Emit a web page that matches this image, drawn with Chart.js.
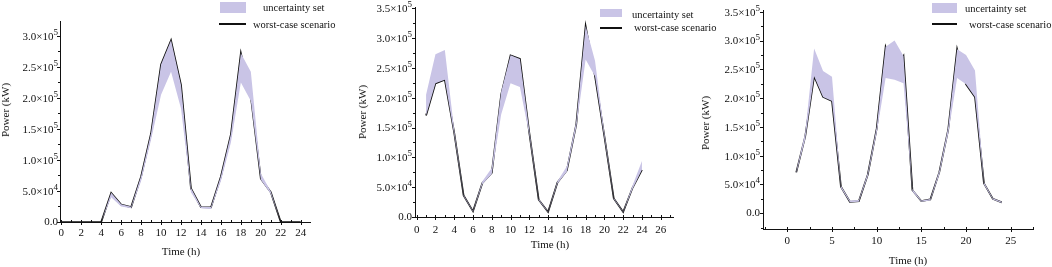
<!DOCTYPE html>
<html>
<head>
<meta charset="utf-8">
<script src="https://cdn.jsdelivr.net/npm/chart.js@4/dist/chart.umd.min.js"></script>
<style>
  body { margin: 0; background: #fff; }
  #wrap { position: relative; width: 1052px; height: 267px; overflow: hidden; font-family: 'Liberation Serif', serif; color: #111; }
  canvas { position: absolute; top: 0; }
  .t { position: absolute; font-size: 11px; white-space: nowrap; transform: translate(-50%, -50%); }
  .ty { transform: translate(-50%, -50%) rotate(-90deg); }
  .lg { position: absolute; font-size: 10.5px; white-space: nowrap; transform: translateY(-50%); }
  .sw { position: absolute; background: #c9c4e6; }
  .ln { position: absolute; height: 1.5px; background: #111; }
</style>
</head>
<body>
<div id="wrap">
  <canvas id="c1" width="350" height="267" style="left:0px"></canvas>
  <canvas id="c2" width="350" height="267" style="left:350px"></canvas>
  <canvas id="c3" width="352" height="267" style="left:700px"></canvas>

  <!-- axis titles -->
  <div class="t ty" style="left:5px; top:110px">Power (kW)</div>
  <div class="t" style="left:181px; top:251px">Time (h)</div>
  <div class="t ty" style="left:362px; top:112px">Power (kW)</div>
  <div class="t" style="left:550px; top:244px">Time (h)</div>
  <div class="t ty" style="left:705px; top:123px">Power (kW)</div>
  <div class="t" style="left:908px; top:260px">Time (h)</div>

  <!-- legends -->
  <div class="sw" style="left:220px; top:2px; width:26px; height:11px"></div>
  <div class="lg" style="left:263px; top:7px">uncertainty set</div>
  <div class="ln" style="left:219px; top:23px; width:27px"></div>
  <div class="lg" style="left:253px; top:24px">worst-case scenario</div>

  <div class="sw" style="left:600px; top:9px; width:22px; height:8px"></div>
  <div class="lg" style="left:632px; top:14px">uncertainty set</div>
  <div class="ln" style="left:600px; top:27px; width:22px"></div>
  <div class="lg" style="left:634px; top:27px">worst-case scenario</div>

  <div class="sw" style="left:932px; top:3px; width:25px; height:10px"></div>
  <div class="lg" style="left:965px; top:8px">uncertainty set</div>
  <div class="ln" style="left:932px; top:23px; width:25px"></div>
  <div class="lg" style="left:969px; top:24px">worst-case scenario</div>
</div>
<script>
// panel 1 (hours 0..24)
const hours1 = [0,1,2,3,4,5,6,7,8,9,10,11,12,13,14,15,16,17,18,19,20,21,22,23,24];
const worst1 = [0,0,0,0,0,46700,28000,24000,73500,143000,254000,293000,221000,54000,24000,23500,73500,141000,272000,202000,70000,48000,0,0,0];
const low1   = [0,0,0,0,0,40000,25000,22000,66000,133000,205000,242000,183000,48000,22000,21000,66000,128000,225000,195000,68000,45000,0,0,0];
const up1    = [0,0,0,0,0,47000,28500,24500,74000,144000,254000,293000,221000,55000,24500,24000,74000,142000,272000,242000,78000,49000,0,0,0];

// panel 2 (hours 1..24)
const hours2 = [1,2,3,4,5,6,7,8,9,10,11,12,13,14,15,16,17,18,19,20,21,22,23,24];
const worst2 = [170000,224000,230000,141000,36000,9500,57000,74000,205000,271000,265000,141000,29000,8400,58000,78000,155000,320000,236000,135000,31000,8400,49000,79000];
const low2   = [170000,224000,230000,138000,35000,9000,55000,72000,172000,224000,218000,138000,28000,8000,56000,76000,150000,264000,236000,133000,30000,8000,47000,79000];
const up2    = [205000,273000,280000,145000,37000,10000,60000,82000,210000,271000,265000,145000,30000,9000,60000,85000,160000,320000,262000,140000,32000,9000,53000,94000];

// panel 3 (hours 1..24)
const hours3 = [1,2,3,4,5,6,7,8,9,10,11,12,13,14,15,16,17,18,19,20,21,22,23,24];
const worst3 = [71000,133000,238000,202000,195000,46000,20000,21000,67000,147000,289000,248000,273000,40000,21000,24000,71000,145000,285000,224000,202000,52000,25000,19000];
const low3   = [69000,128000,238000,202000,195000,44000,19000,20000,64000,140000,235000,232000,226000,38000,20000,22000,67000,138000,235000,224000,202000,50000,24000,18000];
const up3    = [73000,140000,286000,247000,237000,48000,22000,23000,70000,150000,289000,300000,273000,42000,22000,25000,74000,150000,285000,275000,248000,54000,26000,20000];

// tick values
const xTicks1 = [0,2,4,6,8,10,12,14,16,18,20,22,24];
const xMinor1 = [1,3,5,7,9,11,13,15,17,19,21,23];
const xTicks2 = [0,2,4,6,8,10,12,14,16,18,20,22,24,26];
const xMinor2 = [1,3,5,7,9,11,13,15,17,19,21,23,25,27];
const xTicks3 = [0,5,10,15,20,25];
const xMinor3 = [-2.5,2.5,7.5,12.5,17.5,22.5,27.5];
const yTicks1 = [0,50000,100000,150000,200000,250000,300000];
const yMinor1 = [25000,75000,125000,175000,225000,275000];
const yTicks2 = [0,50000,100000,150000,200000,250000,300000,350000];
const yMinor2 = [25000,75000,125000,175000,225000,275000,325000];
const yMinor3 = [-25000,25000,75000,125000,175000,225000,275000,325000];

const bandColor = '#c9c4e6';

function pts(xs, ys) {
  return xs.map((x, i) => ({x: x, y: ys[i]}));
}

// axis ticks (major + minor) and y labels written as m.m×10^e
const tickMarks = {
  id: 'tickMarks',
  afterDraw(chart, args, o) {
    const ctx = chart.ctx;
    const xs = chart.scales.x, ys = chart.scales.y;
    const a = chart.chartArea;
    ctx.save();
    ctx.strokeStyle = '#111';
    ctx.lineWidth = 1;
    ctx.beginPath();
    o.xMajor.forEach(v => { const p = Math.round(xs.getPixelForValue(v)) + 0.5; ctx.moveTo(p, a.bottom - 2); ctx.lineTo(p, a.bottom + 3); });
    o.xMinor.forEach(v => { const p = Math.round(xs.getPixelForValue(v)) + 0.5; ctx.moveTo(p, a.bottom - 2); ctx.lineTo(p, a.bottom + 1); });
    o.yMajor.forEach(v => { const p = Math.round(ys.getPixelForValue(v)) + 0.5; ctx.moveTo(a.left - 3, p); ctx.lineTo(a.left, p); });
    o.yMinor.forEach(v => { const p = Math.round(ys.getPixelForValue(v)) + 0.5; ctx.moveTo(a.left - 2, p); ctx.lineTo(a.left, p); });
    ctx.stroke();

    ctx.fillStyle = '#111';
    ctx.textAlign = 'right';
    const xr = a.left - o.yPad;
    o.yMajor.forEach(v => {
      const p = ys.getPixelForValue(v);
      if (v === 0) {
        ctx.font = '11px "Liberation Serif"';
        ctx.textBaseline = 'middle';
        ctx.fillText('0.0', xr, p);
        return;
      }
      const e = Math.floor(Math.log10(v));
      const m = (v / Math.pow(10, e)).toFixed(1) + '\u00d710';
      ctx.font = '9px "Liberation Serif"';
      ctx.textBaseline = 'alphabetic';
      const ew = ctx.measureText(String(e)).width;
      ctx.fillText(String(e), xr, p - 1);
      ctx.font = '11px "Liberation Serif"';
      ctx.textBaseline = 'middle';
      ctx.fillText(m, xr - ew, p + 1);
    });
    ctx.restore();
  }
};

function makeChart(id, cfg) {
  const font = {family: 'Liberation Serif', size: 11};
  return new Chart(document.getElementById(id), {
    type: 'line',
    data: {
      datasets: [
        {data: pts(cfg.hours, cfg.low), borderWidth: 0, pointRadius: 0, fill: false},
        {data: pts(cfg.hours, cfg.up), borderWidth: 0, pointRadius: 0, fill: '-1', backgroundColor: bandColor},
        {data: pts(cfg.hours, cfg.worst), borderColor: '#111', borderWidth: 1.7, pointRadius: 0, fill: false}
      ]
    },
    options: {
      responsive: false,
      animation: false,
      layout: {padding: cfg.pad},
      plugins: {
        legend: {display: false},
        tooltip: {enabled: false},
        tickMarks: {xMajor: cfg.xTicks, xMinor: cfg.xMinor, yMajor: cfg.yTicks, yMinor: cfg.yMinor, yPad: cfg.yPad}
      },
      scales: {
        x: {
          type: 'linear', min: cfg.xMin, max: cfg.xMax,
          afterBuildTicks: s => { s.ticks = cfg.xTicks.map(v => ({value: v})); },
          afterFit: s => { s.height = cfg.xH; },
          grid: {display: true, drawOnChartArea: false, drawTicks: false},
          border: {color: '#111', width: 1},
          ticks: {font: font, color: '#111', padding: cfg.xPad, maxRotation: 0, autoSkip: false, callback: v => String(v)}
        },
        y: {
          min: cfg.yMin, max: cfg.yMax,
          afterBuildTicks: s => { s.ticks = cfg.yTicks.map(v => ({value: v})); },
          afterFit: s => { s.width = cfg.yW; },
          grid: {display: true, drawOnChartArea: false, drawTicks: false},
          border: {color: '#111', width: 1},
          ticks: {display: false}
        }
      }
    },
    plugins: [tickMarks]
  });
}

makeChart('c1', {
  hours: hours1, worst: worst1, low: low1, up: up1,
  xTicks: xTicks1, xMinor: xMinor1, yTicks: yTicks1, yMinor: yMinor1,
  xMin: -0.13, xMax: 24.93, yMin: 0, yMax: 324000,
  pad: {left: 0, top: 21, right: 40, bottom: 0}, xH: 45, yW: 60, xPad: 5, yPad: 2
});

makeChart('c2', {
  hours: hours2, worst: worst2, low: low2, up: up2,
  xTicks: xTicks2, xMinor: xMinor2, yTicks: yTicks2, yMinor: yMinor2,
  xMin: -0.18, xMax: 27.31, yMin: 0, yMax: 352000,
  pad: {left: 0, top: 7, right: 27, bottom: 0}, xH: 50, yW: 65, xPad: 7, yPad: 3
});

makeChart('c3', {
  hours: hours3, worst: worst3, low: low3, up: up3,
  xTicks: xTicks3, xMinor: xMinor3, yTicks: yTicks2, yMinor: yMinor3,
  xMin: -2.72, xMax: 27.49, yMin: -27300, yMax: 353000,
  pad: {left: 0, top: 10, right: 19, bottom: 0}, xH: 38, yW: 63, xPad: 6, yPad: 3
});
</script>
</body>
</html>
